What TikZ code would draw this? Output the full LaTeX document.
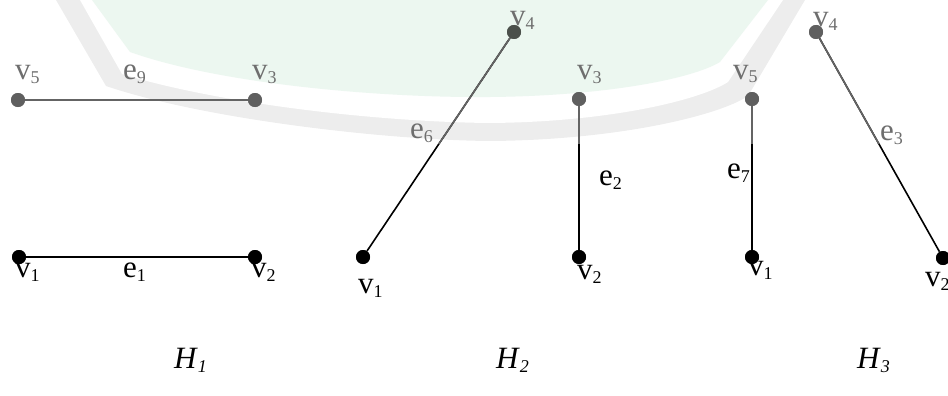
\documentclass[tikz,border=0pt]{standalone}
\usepackage{fontspec}
\setmainfont{Liberation Serif}
\definecolor{fadeline}{RGB}{100,100,100}
\definecolor{fadedot}{RGB}{95,95,95}
\definecolor{fadedark}{RGB}{75,80,75}
\definecolor{fadetext}{RGB}{110,110,110}
\definecolor{wmgreen}{RGB}{236,247,240}
\definecolor{wmgray}{RGB}{237,237,237}
\newcommand\sbs[1]{\raisebox{-4pt}{\fontsize{18}{18}\selectfont #1}}
\tikzset{
 vtx/.style={circle,fill=black,inner sep=0pt,minimum size=14pt},
 fvtx/.style={vtx,fill=fadedot},
 lbl/.style={anchor=base west,inner sep=0pt,font=\fontsize{31}{36}\selectfont},
 flbl/.style={lbl,text=fadetext},
 edge/.style={line width=1.6pt,draw=black},
 fedge/.style={line width=1.6pt,draw=fadeline},
}
\begin{document}
\begin{tikzpicture}[x=1pt,y=-1pt]
\useasboundingbox (0,0) rectangle (948,396);
% faint background watermark
\fill[wmgray] (56,0) -- (106,86) .. controls (200,118) and (380,140) .. (490,141) .. controls (620,140) and (720,115) .. (748,96) -- (805,0) -- cycle;
\fill[white] (80,0) -- (122,74) .. controls (220,104) and (380,122) .. (490,123) .. controls (610,122) and (700,100) .. (728,82) -- (783,0) -- cycle;
\fill[wmgreen] (92,0) -- (130,52) .. controls (220,84) and (380,98) .. (490,97) .. controls (600,96) and (690,80) .. (720,62) -- (768,0) -- cycle;

% vertices
\node[fvtx] (a5) at (18,100) {};
\node[fvtx] (a3) at (255,100) {};
\node[vtx] (a1) at (19,257) {};
\node[vtx] (a2) at (255,257) {};

\node[vtx,fill=fadedark] (b4) at (514,32) {};
\node[fvtx] (b3) at (579,99) {};
\node[vtx] (b1) at (363,257) {};
\node[vtx] (b2) at (579,257) {};

\node[fvtx] (c5) at (752,99) {};
\node[fvtx] (c4) at (816,32) {};
\node[vtx] (c1) at (752,257) {};
\node[vtx] (c2) at (943,258) {};

% edges
\draw[fedge,line width=2pt] (a5) -- (a3);
\draw[edge,line width=2pt] (a1) -- (a2);
\draw[edge] (b4) -- (b1);
\draw[edge] (b3) -- (b2);
\draw[edge] (c5) -- (c1);
\draw[edge] (c4) -- (c2);
\begin{scope}
\clip (0,0) rectangle (948,143);
\draw[fedge] (b4) -- (b1);
\draw[fedge] (b3) -- (b2);
\draw[fedge] (c5) -- (c1);
\draw[fedge] (c4) -- (c2);
\end{scope}

% redraw dots on top of the edges
\node[fvtx] at (a5) {};
\node[fvtx] at (a3) {};
\node[vtx] at (a1) {};
\node[vtx] at (a2) {};
\node[vtx,fill=fadedark] at (b4) {};
\node[fvtx] at (b3) {};
\node[vtx] at (b1) {};
\node[vtx] at (b2) {};
\node[fvtx] at (c5) {};
\node[fvtx] at (c4) {};
\node[vtx] at (c1) {};
\node[vtx] at (c2) {};

% labels H1
\node[flbl] (la5) at (15,80) {v\sbs{5}};
\node[flbl] (le9) at (123,80) {e\sbs{9}};
\node[flbl] (la3) at (252,80) {v\sbs{3}};
\node[lbl] (la1) at (15,277) {v\sbs{1}};
\node[lbl] (le1) at (123,277) {e\sbs{1}};
\node[lbl] (la2) at (251,277) {v\sbs{2}};
% labels H2
\node[flbl] (lb4) at (510,26) {v\sbs{4}};
\node[flbl] (le6) at (410,138) {e\sbs{6}};
\node[flbl] (lb3) at (577,80) {v\sbs{3}};
\node[lbl] (le2) at (599,185) {e\sbs{2}};
\node[lbl] (lb1) at (358,293) {v\sbs{1}};
\node[lbl] (lb2) at (577,279) {v\sbs{2}};
% labels H3
\node[flbl] (lc5) at (733,79) {v\sbs{5}};
\node[flbl] (lc4) at (813,27) {v\sbs{4}};
\node[lbl] (le7) at (727,178) {e\sbs{7}};
\node[flbl] (le3) at (880,140) {e\sbs{3}};
\node[lbl] (lc1) at (748,275) {v\sbs{1}};
\node[lbl] (lc2) at (925,286) {v\sbs{2}};
% graph names
\node[lbl] (h1) at (174,368) {\textit{H}\sbs{\textit{1}}};
\node[lbl] (h2) at (496,368) {\textit{H}\sbs{\textit{2}}};
\node[lbl] (h3) at (857,368) {\textit{H}\sbs{\textit{3}}};
\end{tikzpicture}
\end{document}
